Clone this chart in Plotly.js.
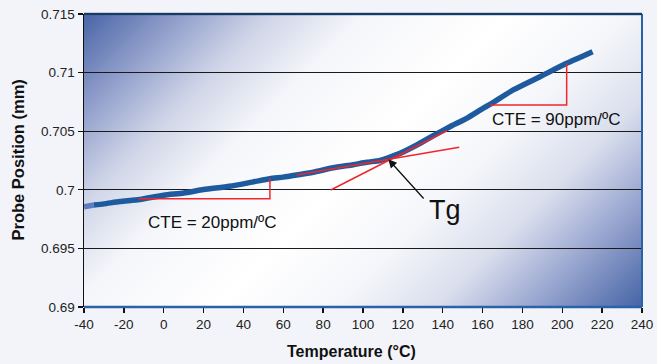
<!DOCTYPE html>
<html>
<head>
<meta charset="utf-8">
<script src="https://cdn.plot.ly/plotly-3.0.1.min.js"></script>
<style>html,body{margin:0;padding:0;background:#f3f4f9;}</style>
</head>
<body>
<div id="chart" style="width:657px;height:364px;"></div>
<script>
// Measured curve
var temperature = [-40, -35, -30, -22, -12, 0, 10, 20, 33, 45, 53.3, 60, 66.7, 75, 85, 95, 101.8, 108.5, 111.9, 118.6, 127, 135, 143.6, 152, 160.2, 163.7, 175.4, 188.8, 202.2, 215.2];
var position = [0.69856, 0.6987, 0.6988, 0.6990, 0.69917, 0.69954, 0.69972, 0.70002, 0.70030, 0.70068, 0.70095, 0.70108, 0.70126, 0.70150, 0.70188, 0.70214, 0.70235, 0.70250, 0.70269, 0.70311, 0.70382, 0.70459, 0.70538, 0.70610, 0.70695, 0.70728, 0.70852, 0.70965, 0.71079, 0.71178];

// Construction lines
var cte20X = [-12.7, 53.3, 53.3];
var cte20Y = [0.69924, 0.69924, 0.70098];
var cte90X = [163.7, 202.2, 202.2];
var cte90Y = [0.70724, 0.70724, 0.71079];
var glassTangentX = [66.7, 148.3];
var glassTangentY = [0.70126, 0.70363];
var rubberTangentX = [83.8, 142];
var rubberTangentY = [0.69998, 0.70504];

// Labels
var cte20Label = {text: 'CTE = 20ppm/ºC', x: 24.5, y: 0.69725};
var cte90Label = {text: 'CTE = 90ppm/ºC', x: 197.1, y: 0.70596};
var tgLabel = {text: 'Tg', x: 141.2, y: 0.69826};
var tgPoint = {x: 112.7, y: 0.7026};
var tgTail = {x: 131.1, y: 0.69913};

var xTicks = [-40, -20, 0, 20, 40, 60, 80, 100, 120, 140, 160, 180, 200, 220, 240];
var yTicks = [0.69, 0.695, 0.7, 0.705, 0.71, 0.715];

var FONT = 'Arial, "Liberation Sans", sans-serif';
var RED = '#f0262b';
var BLUE = '#1d5a9e';

var traces = [
  {x: temperature.slice(0, 2), y: position.slice(0, 2), mode: 'lines', line: {color: '#5e7cbf', width: 5.5}, hoverinfo: 'skip'},
  {x: temperature.slice(1), y: position.slice(1), mode: 'lines', line: {color: BLUE, width: 5.5, shape: 'spline', smoothing: 0.6}, hoverinfo: 'skip'},
  {x: cte20X, y: cte20Y, mode: 'lines', line: {color: RED, width: 1.5}},
  {x: cte90X, y: cte90Y, mode: 'lines', line: {color: RED, width: 1.5}},
  {x: glassTangentX, y: glassTangentY, mode: 'lines', line: {color: RED, width: 1.5}},
  {x: rubberTangentX, y: rubberTangentY, mode: 'lines', line: {color: RED, width: 1.5}}
];

var W = 558, H = 293;
var svg = '<svg xmlns="http://www.w3.org/2000/svg" width="' + W + '" height="' + H + '" viewBox="0 0 ' + W + ' ' + H + '" preserveAspectRatio="none">' +
  '<defs><linearGradient id="g" gradientUnits="userSpaceOnUse" x1="0" y1="0" x2="' + ((W + H) / 2) + '" y2="' + ((W + H) / 2) + '">' +
  '<stop offset="0" stop-color="#4865a7"/>' +
  '<stop offset="0.11" stop-color="#8e9cc9"/>' +
  '<stop offset="0.22" stop-color="#cfd5e8"/>' +
  '<stop offset="0.33" stop-color="#f5f6fa"/>' +
  '<stop offset="0.5" stop-color="#ffffff"/>' +
  '<stop offset="0.64" stop-color="#f5f6fa"/>' +
  '<stop offset="0.76" stop-color="#d9deed"/>' +
  '<stop offset="0.86" stop-color="#9eaad2"/>' +
  '<stop offset="1" stop-color="#4564a6"/>' +
  '</linearGradient></defs><rect x="0" y="0" width="' + W + '" height="' + H + '" fill="url(#g)"/></svg>';
var bgSrc = 'data:image/svg+xml;charset=utf-8,' + encodeURIComponent(svg);

var layout = {
  width: 657, height: 364,
  margin: {l: 84, r: 15, t: 14, b: 57},
  paper_bgcolor: '#f3f4f9',
  plot_bgcolor: 'rgba(0,0,0,0)',
  showlegend: false,
  font: {family: FONT, size: 13.5, color: '#222'},
  images: [{source: bgSrc, xref: 'paper', yref: 'paper', x: 0, y: 1, sizex: 1, sizey: 1,
            xanchor: 'left', yanchor: 'top', sizing: 'stretch', layer: 'below'}],
  xaxis: {
    range: [-40, 240], tickmode: 'array', tickvals: xTicks, ticktext: xTicks.map(String),
    ticks: 'outside', ticklen: 5, tickcolor: '#111', tickwidth: 1.3,
    showgrid: false, zeroline: false, showline: false,
    tickfont: {family: FONT, size: 13.5, color: '#222'}
  },
  yaxis: {
    range: [0.69, 0.715], tickmode: 'array', tickvals: yTicks, ticktext: yTicks.map(String),
    ticks: 'outside', ticklen: 5, tickcolor: '#111', tickwidth: 1.3,
    showgrid: true, gridcolor: '#1a1a1a', gridwidth: 1,
    zeroline: false, showline: true, linecolor: '#111', linewidth: 1.5,
    tickfont: {family: FONT, size: 13.5, color: '#222'}
  },
  shapes: [
    {type: 'line', xref: 'paper', yref: 'paper', x0: 0, x1: 1, y0: 0, y1: 0, line: {color: '#2a62a8', width: 2.5}},
    {type: 'line', xref: 'paper', yref: 'paper', x0: 1, x1: 1, y0: 0, y1: 1, line: {color: '#2a62a8', width: 2}},
    {type: 'line', xref: 'paper', yref: 'paper', x0: 0, x1: 1, y0: 1, y1: 1, line: {color: '#2a62a8', width: 2.5}},
    {type: 'line', xref: 'paper', yref: 'paper', x0: 0, x1: 1, y0: 1, y1: 1, line: {color: '#111', width: 1}}
  ],
  annotations: [
    {text: cte20Label.text, x: cte20Label.x, y: cte20Label.y, xref: 'x', yref: 'y', showarrow: false, font: {family: FONT, size: 17, color: '#111'}},
    {text: cte90Label.text, x: cte90Label.x, y: cte90Label.y, xref: 'x', yref: 'y', showarrow: false, font: {family: FONT, size: 17, color: '#111'}},
    {text: tgLabel.text, x: tgLabel.x, y: tgLabel.y, xref: 'x', yref: 'y', showarrow: false, font: {family: FONT, size: 27, color: '#111'}},
    {text: '', x: tgPoint.x, y: tgPoint.y, xref: 'x', yref: 'y', ax: tgTail.x, ay: tgTail.y, axref: 'x', ayref: 'y',
     showarrow: true, arrowhead: 2, arrowsize: 1.3, arrowwidth: 1.3, arrowcolor: '#111'},
    {text: '<b>Probe Position (mm)</b>', xref: 'paper', yref: 'paper', x: -0.12, y: 0.5, xanchor: 'center', yanchor: 'middle',
     textangle: -90, showarrow: false, font: {family: FONT, size: 16.5, color: '#111'}},
    {text: '<b>Temperature (°C)</b>', xref: 'paper', yref: 'paper', x: 0.48, y: -0.152, xanchor: 'center', yanchor: 'middle',
     showarrow: false, font: {family: FONT, size: 16, color: '#111'}}
  ]
};

Plotly.newPlot('chart', traces, layout, {displayModeBar: false, staticPlot: true});
</script>
</body>
</html>
